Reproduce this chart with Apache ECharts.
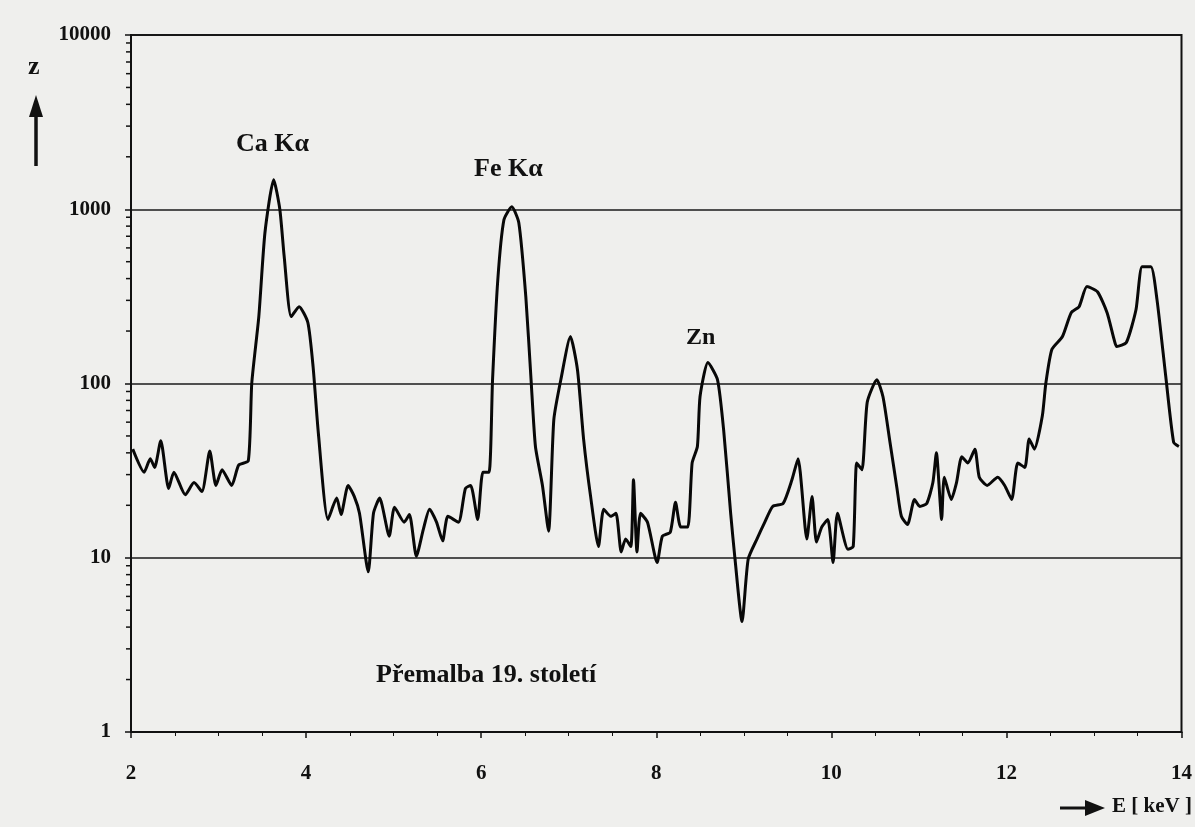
<!DOCTYPE html>
<html>
<head>
<meta charset="utf-8">
<script src="https://cdn.jsdelivr.net/npm/echarts@6/dist/echarts.min.js"></script>
<style>
html,body{margin:0;padding:0;background:#efefed;}
#c{width:1195px;height:827px;}
</style>
</head>
<body>
<div id="c"></div>
<script>
// Energy (keV)
const energy = [2.02,2.15,2.22,2.27,2.34,2.43,2.49,2.62,2.72,2.81,2.90,2.97,3.04,3.15,3.23,3.34,3.38,3.46,3.53,3.63,3.70,3.75,3.83,3.92,4.02,4.08,4.14,4.25,4.35,4.40,4.48,4.55,4.61,4.71,4.77,4.84,4.95,5.01,5.12,5.18,5.26,5.34,5.41,5.49,5.56,5.62,5.74,5.82,5.88,5.96,6.02,6.09,6.13,6.19,6.26,6.35,6.43,6.51,6.57,6.62,6.70,6.77,6.83,6.91,7.02,7.10,7.17,7.25,7.34,7.40,7.48,7.54,7.60,7.65,7.71,7.74,7.78,7.82,7.90,8.01,8.07,8.16,8.22,8.28,8.36,8.41,8.47,8.50,8.59,8.70,8.77,8.85,8.90,8.98,9.05,9.15,9.24,9.33,9.45,9.55,9.62,9.72,9.78,9.83,9.89,9.96,10.02,10.07,10.19,10.25,10.29,10.35,10.41,10.52,10.59,10.67,10.75,10.80,10.87,10.95,11.01,11.09,11.16,11.20,11.26,11.29,11.37,11.43,11.49,11.56,11.64,11.69,11.78,11.90,11.98,12.06,12.13,12.21,12.26,12.32,12.41,12.45,12.52,12.64,12.74,12.83,12.92,13.04,13.15,13.23,13.26,13.37,13.48,13.55,13.65,13.72,13.82,13.91,13.97];
// Counts z
const counts = [42,31,37,33,47,25,31,23,27,24,41,26,32,26,34,36,101,242,733,1475,1000,535,242,276,224,125,52,16.6,22,17.7,26,22.5,18,8.3,18,22,13.3,19.5,16,17.7,10.2,14.6,19,16,12.5,17.3,16,25,26,16.6,31,31,105,394,870,1033,837,315,105,43.5,26,14.2,62,105,186,120,48,22.5,11.6,19,17.3,18,10.8,12.8,11.6,28,10.8,18,16,9.4,13.3,14,20.8,15,15,35,43.5,84,132,105,54,18,9.8,4.3,9.8,12.8,16,19.7,20.5,28,37,12.8,22.5,12.3,15,16.6,9.4,18,11.2,11.6,35,32,78,105,84,46,25,17.3,15.5,21.6,19.7,20.5,27,40,16.6,29,21.6,27,38,35,42,29,26,29,26,21.6,35,33,48,42,65,100,157,186,255,276,360,336,255,179,163,172,265,468,468,303,110,46,43.5];
const decades = [1,10,100,1000];
const minorMult = [2,3,4,5,6,7,8,9];
const yMinorTicks = [];
decades.forEach(d => minorMult.forEach(m => yMinorTicks.push(d*m)));

const chart = echarts.init(document.getElementById('c'));
const serif = 'Liberation Serif';
const lbl = {fontFamily: serif, fontWeight: 'bold', fontSize: 21, color: '#111'};
chart.setOption({
  backgroundColor: '#efefed',
  animation: false,
  grid: {left: 131, right: 12, top: 35, bottom: 95, show: true, borderColor: '#111', borderWidth: 2, backgroundColor: 'transparent'},
  xAxis: {
    type: 'value', min: 2, max: 14, interval: 2,
    axisLine: {lineStyle: {color: '#111', width: 2}},
    axisTick: {show: true, length: 6, lineStyle: {color: '#111', width: 1.5}},
    minorTick: {show: true, splitNumber: 4, length: 4, lineStyle: {color: '#111'}},
    splitLine: {show: false},
    axisLabel: Object.assign({margin: 31, formatter: v => String(v)}, lbl)
  },
  yAxis: {
    type: 'log', min: 1, max: 10000, logBase: 10,
    axisLine: {lineStyle: {color: '#111', width: 2}},
    axisTick: {show: true, length: 6, lineStyle: {color: '#111', width: 1.5}},
    splitLine: {show: true, lineStyle: {color: '#1a1a1a', width: 1.6}},
    axisLabel: Object.assign({margin: 20, formatter: v => String(Math.round(v))}, lbl)
  },
  series: [
    {
      type: 'line', data: energy.map((e, i) => [e, counts[i]]),
      showSymbol: false, smooth: 0.2,
      lineStyle: {color: '#080808', width: 3}
    },
    {
      type: 'custom', silent: true, clip: false,
      data: yMinorTicks.map(v => [2, v]),
      renderItem: function (params, api) {
        const p = api.coord([2, api.value(1)]);
        return {type: 'line', shape: {x1: p[0] - 5, y1: p[1], x2: p[0], y2: p[1]}, style: {stroke: '#111', lineWidth: 1.5}};
      }
    }
  ],
  graphic: [
    {type: 'text', left: 236, top: 131, style: {text: 'Ca K\u03b1', font: 'bold 26px "Liberation Serif"', fill: '#111'}},
    {type: 'text', left: 474, top: 156, style: {text: 'Fe K\u03b1', font: 'bold 26px "Liberation Serif"', fill: '#111'}},
    {type: 'text', left: 686, top: 326, style: {text: 'Zn', font: 'bold 24px "Liberation Serif"', fill: '#111'}},
    {type: 'text', left: 376, top: 662, style: {text: 'P\u0159emalba 19. stolet\u00ed', font: 'bold 26px "Liberation Serif"', fill: '#111'}},
    {type: 'text', left: 28, top: 54, style: {text: 'z', font: 'bold 26px "Liberation Serif"', fill: '#111'}},
    {type: 'line', shape: {x1: 36, y1: 166, x2: 36, y2: 108}, style: {stroke: '#111', lineWidth: 3.5}},
    {type: 'polygon', shape: {points: [[36, 95], [29, 117], [43, 117]]}, style: {fill: '#111'}},
    {type: 'line', shape: {x1: 1060, y1: 808, x2: 1090, y2: 808}, style: {stroke: '#111', lineWidth: 3}},
    {type: 'polygon', shape: {points: [[1105, 808], [1085, 800], [1085, 816]]}, style: {fill: '#111'}},
    {type: 'text', left: 1112, top: 796, style: {text: 'E [ keV ]', font: 'bold 21px "Liberation Serif"', fill: '#111'}}
  ]
});
</script>
</body>
</html>
